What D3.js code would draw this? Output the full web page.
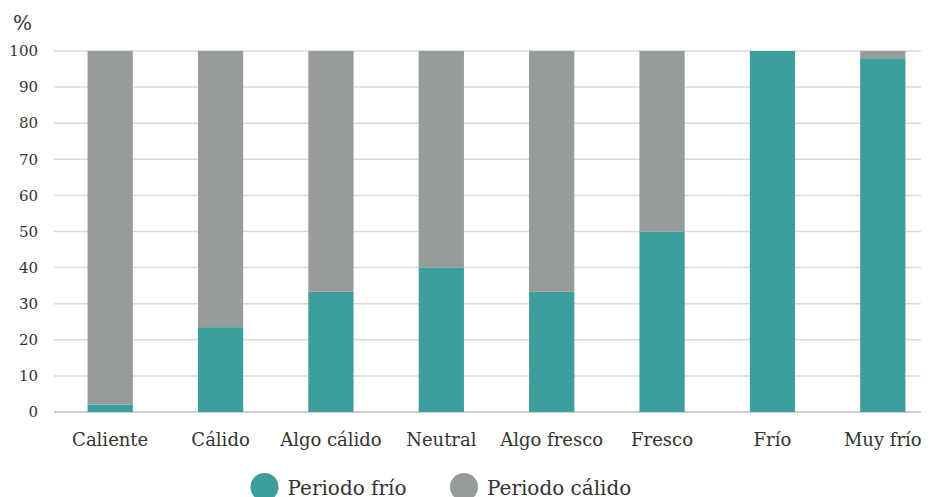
<!DOCTYPE html>
<html>
<head>
<meta charset="utf-8">
<script src="https://cdn.jsdelivr.net/npm/d3@7"></script>
<style>
  body { margin: 0; background: #fff; }
</style>
</head>
<body>
<div class="svg-container"></div>
<script>
/*** Data ***/
const categories = ['Caliente', 'Cálido', 'Algo cálido', 'Neutral', 'Algo fresco', 'Fresco', 'Frío', 'Muy frío']
const frio = [2.1, 23.5, 33.3, 40, 33.3, 50, 100, 98]
const calido = [97.9, 76.5, 66.7, 60, 66.7, 50, 0, 2]
const seriesNames = ['Periodo frío', 'Periodo cálido']
const seriesColors = ['#3d9e9e', '#989b9b']
const yTicks = [0, 10, 20, 30, 40, 50, 60, 70, 80, 90, 100]

const svgWidth = 929
const svgHeight = 497

let svg = d3.select('.svg-container')
    .append('svg')
    .attr('width', svgWidth)
    .attr('height', svgHeight)
    .attr('font-family', 'DejaVu Serif')
    .attr('fill', '#333')

/* scales */
let yScale = d3.scaleLinear()
    .domain([0, 100])
    .range([412, 51])

let xScale = d3.scaleBand()
    .domain(categories)
    .range([55, 938])
    .paddingInner(0.59)
    .paddingOuter(0.295)

/* grid + y labels */
let grid = svg.append('g')
grid.selectAll('line')
    .data(yTicks)
    .enter()
    .append('line')
    .attr('x1', 54)
    .attr('x2', 921)
    .attr('y1', d => yScale(d))
    .attr('y2', d => yScale(d))
    .attr('stroke', d => d === 0 ? '#cfcfcf' : '#dadada')
    .attr('stroke-width', d => d === 0 ? 2 : 1.5)

grid.selectAll('text')
    .data(yTicks)
    .enter()
    .append('text')
    .attr('x', 38)
    .attr('y', d => yScale(d))
    .attr('dy', '0.35em')
    .attr('text-anchor', 'end')
    .attr('font-size', 15)
    .text(d => d)

svg.append('text')
    .attr('x', 13)
    .attr('y', 30)
    .attr('font-size', 20)
    .text('%')

/* stacked bars */
let rows = categories.map((c, i) => ({cat: c, frio: frio[i], calido: calido[i]}))
let stacked = d3.stack().keys(['frio', 'calido'])(rows)

svg.append('g')
    .selectAll('g')
    .data(stacked)
    .enter()
    .append('g')
    .attr('fill', (d, i) => seriesColors[i])
    .selectAll('rect')
    .data(d => d)
    .enter()
    .append('rect')
    .attr('x', d => xScale(d.data.cat))
    .attr('width', xScale.bandwidth())
    .attr('y', d => yScale(d[1]))
    .attr('height', d => yScale(d[0]) - yScale(d[1]))

/* x labels */
svg.append('g')
    .selectAll('text')
    .data(categories)
    .enter()
    .append('text')
    .attr('x', d => xScale(d) + xScale.bandwidth() / 2)
    .attr('y', 446)
    .attr('text-anchor', 'middle')
    .attr('font-size', 18)
    .text(d => d)

/* legend */
const legendX = [264.5, 464]
let legend = svg.append('g')
    .selectAll('g')
    .data(seriesNames)
    .enter()
    .append('g')
    .attr('transform', (d, i) => `translate(${legendX[i]}, 487)`)

legend.append('circle')
    .attr('r', 14)
    .attr('fill', (d, i) => seriesColors[i])

legend.append('text')
    .attr('x', 23)
    .attr('y', 8)
    .attr('font-size', 20)
    .text(d => d)
</script>
</body>
</html>
